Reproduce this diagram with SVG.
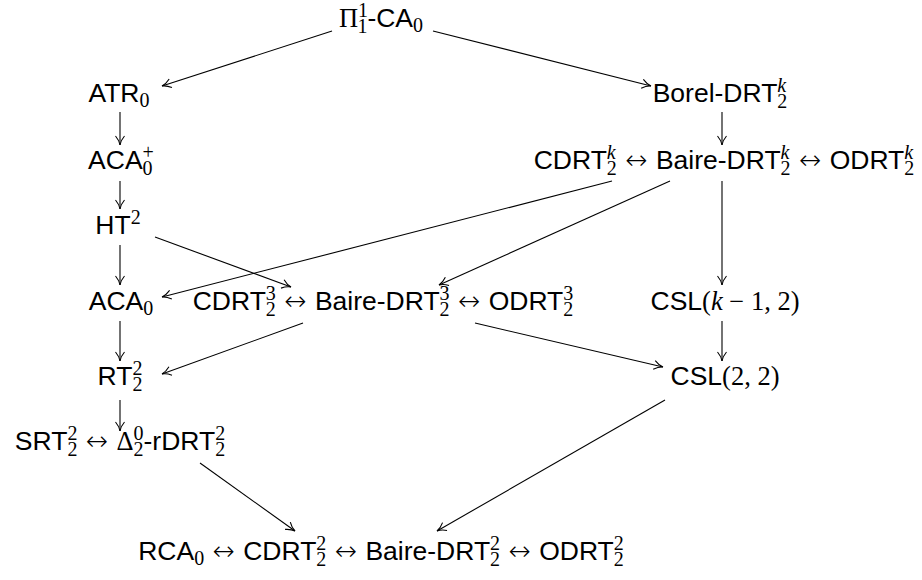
<svg xmlns="http://www.w3.org/2000/svg" width="922" height="580" viewBox="0 0 922 580">
<defs>
<style>
.t{font-family:"Liberation Sans",Arial,sans-serif;font-size:26.5px;fill:#000;text-anchor:middle}
.m{font-family:"Liberation Serif","Times New Roman",serif}
.a{font-family:"DejaVu Sans",sans-serif;font-weight:200}
.s{font-family:"Liberation Serif","Times New Roman",serif;font-size:20px}
.i{font-style:italic}
.e line{stroke:#000;stroke-width:1.1;fill:none;marker-end:url(#ah)}
</style>
<marker id="ah" markerUnits="userSpaceOnUse" orient="auto" refX="0" refY="0" viewBox="-10 -6 11 12" markerWidth="11" markerHeight="12" overflow="visible">
<path d="M-9,-4.5 C-6,-2 -2.5,-0.4 0,0 M-9,4.5 C-6,2 -2.5,0.4 0,0" stroke="#000" stroke-width="1.1" fill="none"/>
</marker>
</defs>
<rect width="922" height="580" fill="#fff"/>
<g id="edges" class="e">
<line x1="332" y1="31" x2="162" y2="86"/>
<line x1="433" y1="31" x2="651" y2="86"/>
<line x1="120" y1="112" x2="120" y2="145"/>
<line x1="722" y1="112" x2="722" y2="145"/>
<line x1="120" y1="181" x2="120" y2="209"/>
<line x1="120" y1="245" x2="120" y2="285"/>
<line x1="155" y1="237" x2="291" y2="287"/>
<line x1="612" y1="181" x2="162" y2="297"/>
<line x1="670" y1="181" x2="439" y2="285"/>
<line x1="722" y1="181" x2="722" y2="285"/>
<line x1="120" y1="321" x2="120" y2="361"/>
<line x1="303" y1="323" x2="162" y2="374"/>
<line x1="475" y1="323" x2="663" y2="367"/>
<line x1="722" y1="321" x2="722" y2="361"/>
<line x1="120" y1="400" x2="120" y2="431"/>
<line x1="200" y1="463" x2="295" y2="531"/>
<line x1="665" y1="400" x2="437" y2="531"/>
</g>
<g id="pi11ca0"><text class="t" x="381" y="27"><tspan class="m">Π</tspan><tspan class="s" dy="-10">1</tspan><tspan class="s" dx="-10" dy="16">1</tspan><tspan dy="-6">-CA</tspan><tspan class="s" dy="5">0</tspan></text></g>
<g id="atr0"><text class="t" x="119" y="102">ATR<tspan class="s" dy="5">0</tspan></text></g>
<g id="boreldrt"><text class="t" x="720" y="102">Borel-DRT<tspan class="s i" dy="-10">k</tspan><tspan class="s" dx="-8.9" dy="16">2</tspan></text></g>
<g id="aca0plus"><text class="t" x="121" y="169">ACA<tspan class="s" dy="6">0</tspan><tspan class="s" dx="-10" dy="-16">+</tspan></text></g>
<g id="cdrtk"><text class="t" x="724" y="169">CDRT<tspan class="s i" dy="-10">k</tspan><tspan class="s" dx="-8.9" dy="16">2</tspan><tspan class="a" dy="-6"> ↔ </tspan>Baire-DRT<tspan class="s i" dy="-10">k</tspan><tspan class="s" dx="-8.9" dy="16">2</tspan><tspan class="a" dy="-6"> ↔ </tspan>ODRT<tspan class="s i" dy="-10">k</tspan><tspan class="s" dx="-8.9" dy="16">2</tspan></text></g>
<g id="ht2"><text class="t" x="118" y="234">HT<tspan class="s" dy="-10">2</tspan></text></g>
<g id="aca0"><text class="t" x="121" y="310">ACA<tspan class="s" dy="5">0</tspan></text></g>
<g id="cdrt3"><text class="t" x="383" y="310">CDRT<tspan class="s" dy="-10">3</tspan><tspan class="s" dx="-10" dy="16">2</tspan><tspan class="a" dy="-6"> ↔ </tspan>Baire-DRT<tspan class="s" dy="-10">3</tspan><tspan class="s" dx="-10" dy="16">2</tspan><tspan class="a" dy="-6"> ↔ </tspan>ODRT<tspan class="s" dy="-10">3</tspan><tspan class="s" dx="-10" dy="16">2</tspan></text></g>
<g id="cslk12"><text class="t" x="725" y="310">CSL<tspan class="m">(<tspan class="i">k</tspan> − 1, 2)</tspan></text></g>
<g id="rt22"><text class="t" x="120" y="385">RT<tspan class="s" dy="-10">2</tspan><tspan class="s" dx="-10" dy="16">2</tspan></text></g>
<g id="csl22"><text class="t" x="725" y="385">CSL<tspan class="m">(2, 2)</tspan></text></g>
<g id="srt22"><text class="t" x="120" y="450">SRT<tspan class="s" dy="-10">2</tspan><tspan class="s" dx="-10" dy="16">2</tspan><tspan class="a" dy="-6"> ↔ </tspan><tspan class="m">Δ</tspan><tspan class="s" dy="-10">0</tspan><tspan class="s" dx="-10" dy="16">2</tspan><tspan dy="-6">-rDRT</tspan><tspan class="s" dy="-10">2</tspan><tspan class="s" dx="-10" dy="16">2</tspan></text></g>
<g id="rca0"><text class="t" x="381" y="560">RCA<tspan class="s" dy="5">0</tspan><tspan class="a" dy="-5"> ↔ </tspan>CDRT<tspan class="s" dy="-10">2</tspan><tspan class="s" dx="-10" dy="16">2</tspan><tspan class="a" dy="-6"> ↔ </tspan>Baire-DRT<tspan class="s" dy="-10">2</tspan><tspan class="s" dx="-10" dy="16">2</tspan><tspan class="a" dy="-6"> ↔ </tspan>ODRT<tspan class="s" dy="-10">2</tspan><tspan class="s" dx="-10" dy="16">2</tspan></text></g>
</svg>
